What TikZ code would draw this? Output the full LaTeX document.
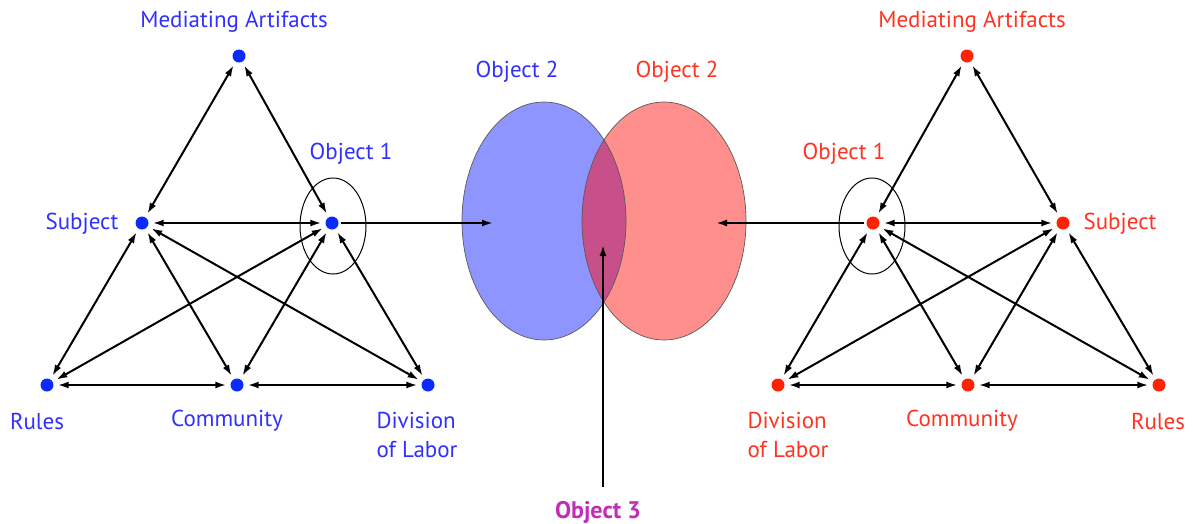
\documentclass[tikz,border=0pt]{standalone}
\usepackage{fontspec}
\setmainfont{PT Sans}
\usetikzlibrary{arrows.meta,positioning}
\definecolor{dotblue}{HTML}{0A2BFF}
\definecolor{dotred}{HTML}{FF2200}
\definecolor{txtblue}{HTML}{3030FF}
\definecolor{txtred}{HTML}{FF3322}
\definecolor{txtmag}{HTML}{C22DB5}
\definecolor{fillblue}{HTML}{8F95FF}
\definecolor{fillred}{HTML}{FF8F8C}
\definecolor{fillmix}{HTML}{C8508A}

\begin{document}
\begin{tikzpicture}[x=1pt,y=-1pt,
  dotb/.style={circle,fill=dotblue,inner sep=0pt,minimum size=13pt},
  dotr/.style={circle,fill=dotred,inner sep=0pt,minimum size=13pt},
  lblb/.style={text=txtblue,align=left,font=\fontsize{23}{29}\selectfont},
  lblr/.style={text=txtred,align=left,font=\fontsize{23}{29}\selectfont},
  rel/.style={<->,>={Latex[length=11pt,width=7pt]},line width=2pt,shorten <=4pt,shorten >=4pt},
  one/.style={->,>={Latex[length=11pt,width=7pt]},line width=2pt},
  ring/.style={line width=1pt}
]
  \useasboundingbox (0,0) rectangle (1193,523);
  % overlapping objects
  \fill[fillblue] (544,221) ellipse [x radius=82pt,y radius=119pt];
  \fill[fillred] (664,221) ellipse [x radius=82pt,y radius=119pt];
  \begin{scope}
    \clip (544,221) ellipse [x radius=82pt,y radius=119pt];
    \fill[fillmix] (664,221) ellipse [x radius=82pt,y radius=119pt];
  \end{scope}
  \draw[black!65,line width=0.7pt] (544,221) ellipse [x radius=82pt,y radius=119pt];
  \draw[black!65,line width=0.7pt] (664,221) ellipse [x radius=82pt,y radius=119pt];
  \node[lblb] (ob2b) at (517,72) {Object 2};
  \node[lblr] (ob2r) at (677,72) {Object 2};
  \coordinate (tipb) at (493,223);
  \coordinate (tipr) at (716,223);
  \coordinate (tip3) at (603,245);
  \node[text=txtmag,font=\fontsize{24}{28}\selectfont\bfseries] (ob3) at (598,512) {Object 3};

  % left activity system
  \node[dotb] (lma)  at (239,56)  {};
  \node[dotb] (lsub) at (142,223) {};
  \node[dotb] (lob)  at (332,223) {};
  \node[dotb] (lrul) at (47,385)  {};
  \node[dotb] (lcom) at (237,385) {};
  \node[dotb] (ldiv) at (428,385) {};
  \node[lblb] at (234,22)  {Mediating Artifacts};
  \node[lblb] at (82,224)  {Subject};
  \node[lblb] at (351,154) {Object 1};
  \node[lblb] at (37,421)  {Rules};
  \node[lblb] at (227,421) {Community};
  \node[lblb] at (417,435) {Division\\of Labor};
  \draw[rel] (lma) -- (lsub);
  \draw[rel] (lma) -- (lob);
  \draw[rel] (lsub) -- (lob);
  \draw[rel] (lsub) -- (lrul);
  \draw[rel] (lsub) -- (lcom);
  \draw[rel] (lsub) -- (ldiv);
  \draw[rel] (lob) -- (lrul);
  \draw[rel] (lob) -- (lcom);
  \draw[rel] (lob) -- (ldiv);
  \draw[rel] (lrul) -- (lcom);
  \draw[rel] (lcom) -- (ldiv);
  \draw[ring] (333,226) ellipse [x radius=33pt,y radius=48pt];
  \draw[one,shorten <=2pt] (lob) -- (tipb);

  % right activity system
  \node[dotr] (rma)  at (967,56)  {};
  \node[dotr] (rob)  at (873,223) {};
  \node[dotr] (rsub) at (1063,223) {};
  \node[dotr] (rdiv) at (778,385) {};
  \node[dotr] (rcom) at (968,385) {};
  \node[dotr] (rrul) at (1159,385) {};
  \node[lblr] at (972,22)   {Mediating Artifacts};
  \node[lblr] at (844,154)  {Object 1};
  \node[lblr] at (1120,224) {Subject};
  \node[lblr] at (788,435)  {Division\\of Labor};
  \node[lblr] at (962,421)  {Community};
  \node[lblr] at (1158,421) {Rules};
  \draw[rel] (rma) -- (rob);
  \draw[rel] (rma) -- (rsub);
  \draw[rel] (rob) -- (rsub);
  \draw[rel] (rob) -- (rdiv);
  \draw[rel] (rob) -- (rcom);
  \draw[rel] (rob) -- (rrul);
  \draw[rel] (rsub) -- (rdiv);
  \draw[rel] (rsub) -- (rcom);
  \draw[rel] (rsub) -- (rrul);
  \draw[rel] (rdiv) -- (rcom);
  \draw[rel] (rcom) -- (rrul);
  \draw[ring] (872,226) ellipse [x radius=33pt,y radius=48pt];
  \draw[one,shorten <=2pt] (rob) -- (tipr);

  % shared object
  \draw[one,shorten <=10pt] (ob3.north -| tip3) -- (tip3);
\end{tikzpicture}
\end{document}
